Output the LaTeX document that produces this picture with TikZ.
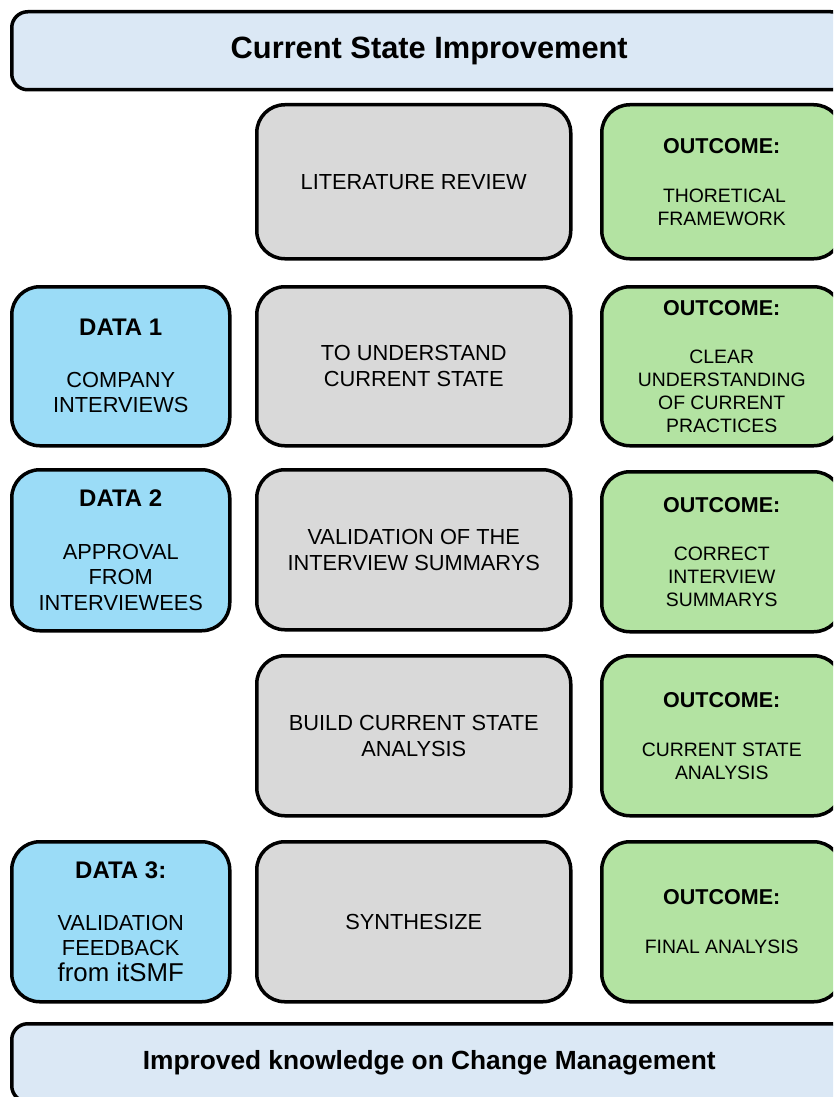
\documentclass[tikz,border=0pt]{standalone}
\usepackage{fontspec}
\setmainfont{Liberation Sans}
\definecolor{bannerfill}{HTML}{DBE8F5}
\definecolor{datafill}{HTML}{9BDCF7}
\definecolor{stepfill}{HTML}{D9D9D9}
\definecolor{outfill}{HTML}{B3E3A2}
\begin{document}
\begin{tikzpicture}[x=1pt,y=-1pt,
  card/.style={draw=black, line width=3.5pt, rounded corners=28pt,
    anchor=north west, inner sep=0pt, align=center, text=black},
  banner/.style={card, fill=bannerfill, rounded corners=16pt,
    minimum width=835pt, minimum height=78pt,
    font=\bfseries\fontsize{30.8}{34}\selectfont},
  stepbox/.style={card, fill=stepfill, minimum width=314pt,
    font=\fontsize{21.8}{26}\selectfont},
  databox/.style={card, fill=datafill, minimum width=218pt,
    font=\fontsize{21.8}{25.5}\selectfont},
  outbox/.style={card, fill=outfill, minimum width=240pt,
    font=\fontsize{19.4}{23}\selectfont}]
\useasboundingbox (0,0) rectangle (833,1097);
\clip (0,0) rectangle (833,1097);
\newcommand{\hd}[2]{{\bfseries\fontsize{#1}{23}\selectfont #2}}

% banners
\node[banner] (top) at (10,10) {\raisebox{-2pt}{Current State Improvement}};
\node[banner, font=\bfseries\fontsize{26.3}{30}\selectfont] (bottom) at (10,1022)
  {Improved knowledge on Change Management};

% middle column: work steps
\node[stepbox, minimum height=154pt] (s1) at (255,103) {LITERATURE REVIEW};
\node[stepbox, minimum height=159pt] (s2) at (255,285) {TO UNDERSTAND\\CURRENT STATE};
\node[stepbox, minimum height=160pt] (s3) at (255,468) {VALIDATION OF THE\\INTERVIEW SUMMARYS};
\node[stepbox, minimum height=160pt] (s4) at (255,654) {BUILD CURRENT STATE\\ANALYSIS};
\node[stepbox, minimum height=160pt] (s5) at (255,840) {SYNTHESIZE};

% left column: data sources
\node[databox, minimum height=159pt] (d1) at (10,285)
  {\hd{24}{DATA 1}\\[26pt]COMPANY\\INTERVIEWS};
\node[databox, minimum height=161pt] (d2) at (10,468)
  {\hd{24}{DATA 2}\\[27pt]APPROVAL\\FROM\\INTERVIEWEES};
\node[databox, minimum height=160pt] (d3) at (10,840)
  {\hd{24}{DATA 3:}\\[26pt]VALIDATION\\FEEDBACK\\{\fontsize{25.8}{27}\selectfont from itSMF}};

% right column: outcomes
\node[outbox, minimum height=154pt] (o1) at (600,103)
  {\hd{21.5}{OUTCOME:}\\[26pt]\ THORETICAL\\FRAMEWORK};
\node[outbox, minimum height=159pt] (o2) at (600,285)
  {\hd{21.5}{OUTCOME:}\\[25pt]CLEAR\\UNDERSTANDING\\OF CURRENT\\PRACTICES};
\node[outbox, minimum height=160pt] (o3) at (600,470)
  {\hd{21.5}{OUTCOME:}\\[25pt]CORRECT\\INTERVIEW\\SUMMARYS};
\node[outbox, minimum height=160pt] (o4) at (600,654)
  {\hd{21.5}{OUTCOME:}\\[26pt]CURRENT STATE\\ANALYSIS};
\node[outbox, minimum height=160pt] (o5) at (600,840)
  {\hd{21.5}{OUTCOME:}\\[26pt]FINAL ANALYSIS};
\end{tikzpicture}
\end{document}
